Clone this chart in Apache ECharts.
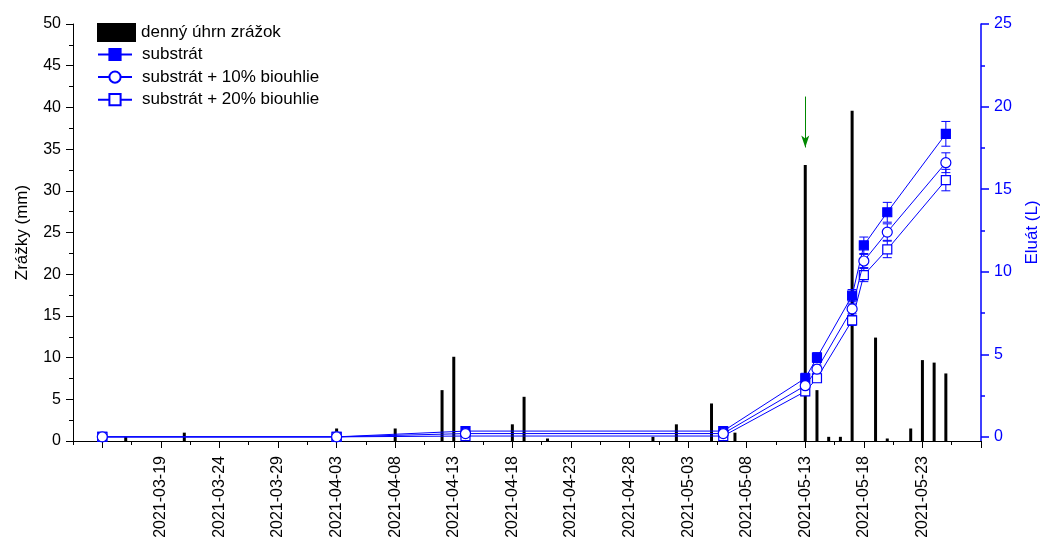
<!DOCTYPE html>
<html>
<head>
<meta charset="utf-8">
<title>Zrážky a eluát</title>
<script src="https://cdn.jsdelivr.net/npm/echarts@6/dist/echarts.min.js"></script>
<style>
  html, body { margin: 0; padding: 0; background: #fff; }
  #chart { width: 1043px; height: 537px; }
</style>
</head>
<body>
<div id="chart"></div>
<script>
// Daily precipitation (mm)
const rainDates = ['2021-03-16','2021-03-21','2021-04-03','2021-04-08','2021-04-12','2021-04-13',
  '2021-04-18','2021-04-19','2021-04-21','2021-04-30','2021-05-02','2021-05-05','2021-05-07',
  '2021-05-13','2021-05-14','2021-05-15','2021-05-16','2021-05-17','2021-05-19','2021-05-20',
  '2021-05-22','2021-05-23','2021-05-24','2021-05-25'];
const rainMm = [0.5, 1.0, 1.5, 1.5, 6.1, 10.1, 2.0, 5.3, 0.3, 0.5, 2.0, 4.5, 1.0,
  33.1, 6.1, 0.5, 0.5, 39.6, 12.4, 0.3, 1.5, 9.7, 9.4, 8.1];

// Cumulative eluate (L) with standard deviations
const eluateDates = ['2021-03-14','2021-04-03','2021-04-14','2021-05-06','2021-05-13',
  '2021-05-14','2021-05-17','2021-05-18','2021-05-20','2021-05-25'];
const substrat   = [0, 0, 0.35, 0.35, 3.55, 4.8, 8.55, 11.6, 13.6, 18.35];
const substratSd = [0.05, 0.05, 0.1, 0.1, 0.3, 0.3, 0.37, 0.5, 0.6, 0.75];
const bio10      = [0, 0, 0.2, 0.2, 3.1, 4.1, 7.75, 10.65, 12.4, 16.6];
const bio10Sd    = [0.05, 0.05, 0.1, 0.1, 0.25, 0.25, 0.3, 0.4, 0.5, 0.6];
const bio20      = [0, 0, 0.05, 0.05, 2.75, 3.55, 7.05, 9.8, 11.35, 15.55];
const bio20Sd    = [0.05, 0.05, 0.1, 0.1, 0.25, 0.25, 0.3, 0.4, 0.5, 0.65];

// Arrow marking the irrigation event (mm on the left axis)
const arrowDate = '2021-05-13';
const arrowFromMm = 41.3;
const arrowToMm = 35.2;

// Axis ranges and tick values (days counted from the origin date)
const originDate = '2021-03-14';
const xMinDays = -2.5, xMaxDays = 75;
const xMajorTicks = [0,5,10,15,20,25,30,35,40,45,50,55,60,65,70,75];
const xLabelTicks = [5,10,15,20,25,30,35,40,45,50,55,60,65,70];
const xMinorTicks = [-2.5,2.5,7.5,12.5,17.5,22.5,27.5,32.5,37.5,42.5,47.5,52.5,57.5,62.5,67.5,72.5];
const rightMajorTicks = [0,5,10,15,20,25];
const rightMinorTicks = [2.5,7.5,12.5,17.5,22.5];

const DAY = 86400000;
function toUTC(s) { const p = s.split('-').map(Number); return Date.UTC(p[0], p[1] - 1, p[2]); }
const originMs = toUTC(originDate);
function dayIndex(s) { return Math.round((toUTC(s) - originMs) / DAY); }
function pad(n) { return (n < 10 ? '0' : '') + n; }
function dayLabel(v) {
  const d = new Date(originMs + v * DAY);
  return d.getUTCFullYear() + '-' + pad(d.getUTCMonth() + 1) + '-' + pad(d.getUTCDate());
}

const BLUE = '#0000ff';
const FONT = '"Liberation Sans", Arial, sans-serif';

const rainData = rainDates.map((d, i) => [dayIndex(d), rainMm[i]]);
const lineData = vals => eluateDates.map((d, i) => [dayIndex(d), vals[i]]);
const errData = (vals, sd) => eluateDates.map((d, i) => [dayIndex(d), vals[i] - sd[i], vals[i] + sd[i]]);

function renderErr(params, api) {
  const x = api.value(0);
  const lo = api.coord([x, api.value(1)]);
  const hi = api.coord([x, api.value(2)]);
  const w = 4.5;
  const st = { stroke: BLUE, lineWidth: 1 };
  return {
    type: 'group',
    children: [
      { type: 'line', shape: { x1: lo[0], y1: lo[1], x2: hi[0], y2: hi[1] }, style: st },
      { type: 'line', shape: { x1: hi[0] - w, y1: hi[1], x2: hi[0] + w, y2: hi[1] }, style: st },
      { type: 'line', shape: { x1: lo[0] - w, y1: lo[1], x2: lo[0] + w, y2: lo[1] }, style: st }
    ]
  };
}

function errSeries(vals, sd) {
  return {
    type: 'custom', xAxisIndex: 0, yAxisIndex: 1, z: 3,
    renderItem: renderErr, data: errData(vals, sd),
    encode: { x: 0, y: [1, 2] }, silent: true
  };
}

function lineSeries(name, vals, symbol, filled, z) {
  return {
    name: name, type: 'line', xAxisIndex: 0, yAxisIndex: 1, z: z,
    data: lineData(vals), symbol: symbol, symbolSize: symbol === 'circle' ? 10 : 9,
    showAllSymbol: true,
    lineStyle: { color: BLUE, width: 1 },
    itemStyle: { color: filled ? BLUE : '#fff', borderColor: BLUE, borderWidth: 1.2 },
    emphasis: { disabled: true }
  };
}

const chart = echarts.init(document.getElementById('chart'), null, { renderer: 'canvas' });
chart.setOption({
  animation: false,
  backgroundColor: '#fff',
  textStyle: { fontFamily: FONT },
  grid: { left: 73, right: 62, top: 24, bottom: 96, containLabel: false, outerBoundsMode: 'none' },
  legend: [
    {
      data: [{ name: 'denný úhrn zrážok', icon: 'rect' }],
      left: 97, top: 23, orient: 'vertical', padding: 0,
      itemWidth: 39, itemHeight: 19,
      textStyle: { fontSize: 17, color: '#000', fontFamily: FONT },
      selectedMode: false
    },
    {
      data: ['substrát', 'substrát + 10% biouhlie', 'substrát + 20% biouhlie'],
      left: 97, top: 46, orient: 'vertical', padding: 0,
      itemWidth: 34, itemHeight: 14, itemGap: 5.6,
      textStyle: { fontSize: 17, color: '#000', fontFamily: FONT, padding: [0, 0, 0, 5] },
      selectedMode: false
    }
  ],
  xAxis: [
    {
      type: 'value', min: xMinDays, max: xMaxDays, position: 'bottom',
      axisLine: { show: true, onZero: false, lineStyle: { color: '#000', width: 1 } },
      axisTick: { show: true, inside: false, length: 7, customValues: xMajorTicks, lineStyle: { color: '#000' } },
      axisLabel: {
        show: true, customValues: xLabelTicks, rotate: 90, margin: 15,
        fontSize: 16, color: '#000', fontFamily: FONT, formatter: v => dayLabel(v)
      },
      splitLine: { show: false }
    },
    {
      type: 'value', min: xMinDays, max: xMaxDays, position: 'bottom',
      axisLine: { show: false, onZero: false },
      axisTick: { show: true, inside: false, length: 4, customValues: xMinorTicks, lineStyle: { color: '#000' } },
      axisLabel: { show: false },
      splitLine: { show: false }
    }
  ],
  yAxis: [
    {
      type: 'value', min: 0, max: 50, interval: 5, position: 'left',
      name: 'Zrážky (mm)', nameLocation: 'middle', nameGap: 42, nameRotate: 90,
      nameTextStyle: { fontSize: 17, color: '#000', fontFamily: FONT },
      axisLine: { show: true, onZero: false, lineStyle: { color: '#000', width: 1 } },
      axisTick: { show: true, inside: false, length: 7, lineStyle: { color: '#000' } },
      minorTick: { show: true, splitNumber: 2, length: 4, lineStyle: { color: '#000' } },
      axisLabel: { fontSize: 16, color: '#000', margin: 12, fontFamily: FONT },
      splitLine: { show: false }
    },
    {
      type: 'value', min: -0.25, max: 25, position: 'right',
      name: 'Eluát (L)', nameLocation: 'middle', nameGap: 43, nameRotate: 90,
      nameTextStyle: { fontSize: 17, color: BLUE, fontFamily: FONT },
      axisLine: { show: true, onZero: false, lineStyle: { color: BLUE, width: 1.5 } },
      axisTick: { show: true, inside: false, length: 8, customValues: rightMajorTicks, lineStyle: { color: BLUE, width: 1.5 } },
      axisLabel: { customValues: rightMajorTicks, fontSize: 16, color: BLUE, margin: 13, fontFamily: FONT },
      splitLine: { show: false }
    },
    {
      type: 'value', min: -0.25, max: 25, position: 'right',
      axisLine: { show: false, onZero: false },
      axisTick: { show: true, inside: false, length: 4, customValues: rightMinorTicks, lineStyle: { color: BLUE, width: 1.5 } },
      axisLabel: { show: false },
      splitLine: { show: false }
    }
  ],
  series: [
    {
      name: 'denný úhrn zrážok', type: 'bar', xAxisIndex: 0, yAxisIndex: 0, z: 2,
      data: rainData, barWidth: 3,
      itemStyle: { color: '#000' },
      emphasis: { disabled: true },
      markLine: {
        silent: true, symbol: ['none', 'arrow'], symbolSize: [6, 12],
        lineStyle: { color: '#008800', width: 1, type: 'solid' },
        label: { show: false },
        data: [[
          { coord: [dayIndex(arrowDate), arrowFromMm] },
          { coord: [dayIndex(arrowDate), arrowToMm] }
        ]]
      }
    },
    errSeries(substrat, substratSd),
    errSeries(bio10, bio10Sd),
    errSeries(bio20, bio20Sd),
    lineSeries('substrát', substrat, 'rect', true, 4),
    lineSeries('substrát + 20% biouhlie', bio20, 'rect', false, 5),
    lineSeries('substrát + 10% biouhlie', bio10, 'circle', false, 6)
  ]
});
</script>
</body>
</html>
